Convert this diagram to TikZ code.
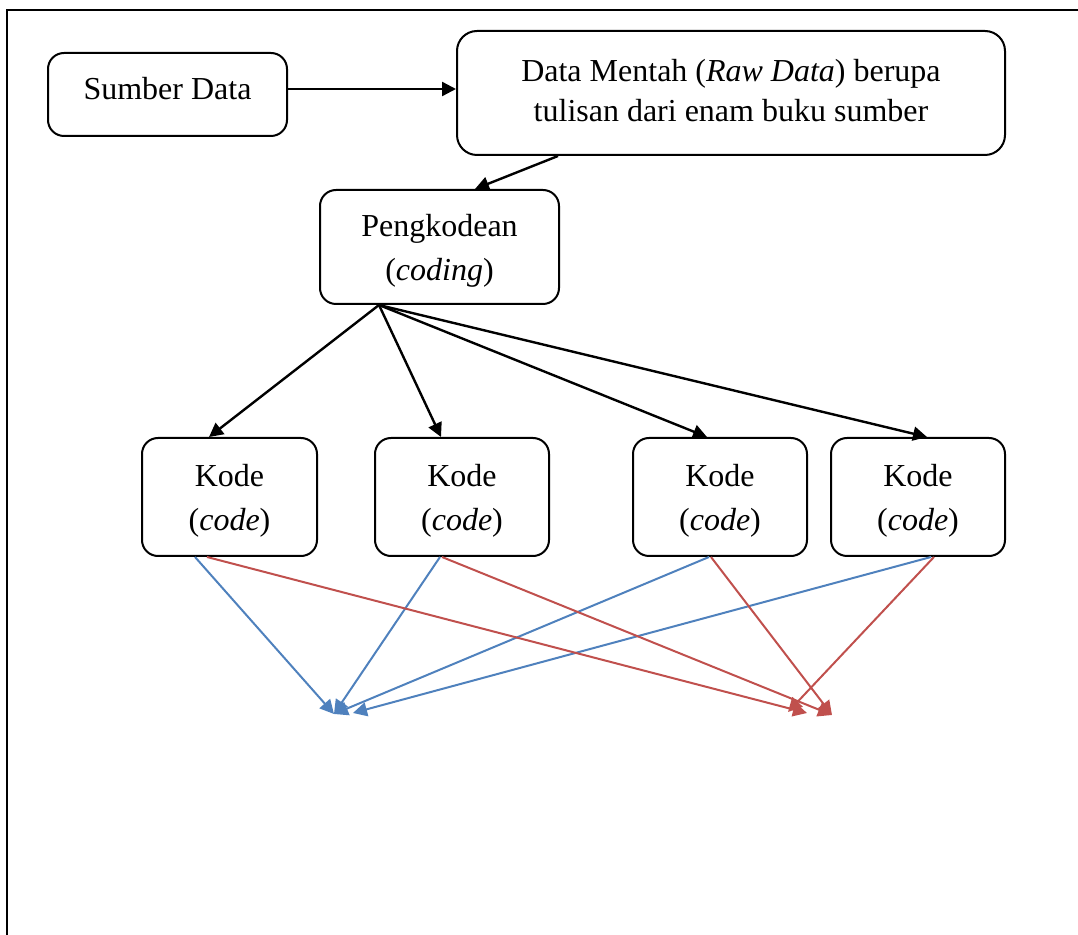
\documentclass[tikz,border=0pt]{standalone}
\usepackage{fontspec}
\setmainfont{Liberation Serif}
\usetikzlibrary{arrows.meta,calc}
\definecolor{obl}{HTML}{4F81BD}
\definecolor{ord}{HTML}{C0504D}
\begin{document}
\begin{tikzpicture}[x=0.5pt,y=-0.5pt,
  box/.style={draw,line width=1pt,rounded corners=8pt,inner sep=0pt,align=center,
    font=\fontsize{16}{22}\selectfont},
  two/.style={box,text depth=0pt},
  blk/.style={line width=1.2pt,-{Triangle[length=7pt,width=7pt]}},
  blu/.style={draw=obl,line width=1pt,-{Triangle[length=7pt,width=7pt]}},
  rdd/.style={draw=ord,line width=1pt,-{Triangle[length=7pt,width=7pt]}}]
\useasboundingbox (0,0) rectangle (1078,935);
\draw[line width=1.3pt] (1078,10) -- (7,10) -- (7,935);
\node[box,minimum width=119.5pt,minimum height=41.5pt,text depth=6pt] (src) at (167.5,94.5) {Sumber Data};
\node[box,minimum width=274pt,minimum height=62pt,rounded corners=10pt,text depth=3pt,
  font=\fontsize{16}{20}\selectfont] (raw) at (731,93) {Data Mentah (\textit{Raw Data}) berupa\\tulisan dari enam buku sumber};
\node[two,minimum width=119.5pt,minimum height=57pt] (cod) at (439.5,247) {Pengkodean\\(\textit{coding})};
\node[two,minimum width=87.5pt,minimum height=59pt] (k1) at (229.5,497) {Kode\\(\textit{code})};
\node[two,minimum width=87pt,minimum height=59pt] (k2) at (462,497) {Kode\\(\textit{code})};
\node[two,minimum width=87pt,minimum height=59pt] (k3) at (720,497) {Kode\\(\textit{code})};
\node[two,minimum width=87pt,minimum height=59pt] (k4) at (918,497) {Kode\\(\textit{code})};
\coordinate (b1) at (334,714);
\coordinate (b2) at (353,713);
\coordinate (r1) at (807,713);
\coordinate (r2) at (832,715);
\coordinate (r4) at (788,712);
\draw[blk] ([yshift=2.75pt]src.east) -- ([yshift=2pt]raw.west);
\draw[blk] ([xshift=-86.5pt]raw.south) -- ([xshift=17.75pt]cod.north);
\coordinate (cs) at ([xshift=30pt]cod.south west);
\draw[blk] (cs) -- ([xshift=34pt]k1.north west);
\draw[blk] (cs) -- ([xshift=33.5pt]k2.north west);
\draw[blk] (cs) -- ([xshift=37.5pt]k3.north west);
\draw[blk] (cs) -- ([xshift=48.5pt]k4.north west);
\draw[blu] ([xshift=27pt]k1.south west) -- (b1);
\draw[blu] ([xshift=33pt]k2.south west) -- (b1);
\draw[blu] ([xshift=38.5pt]k3.south west) -- (b1);
\draw[blu] ([xshift=50.5pt]k4.south west) -- (b2);
\draw[rdd] ([xshift=33pt]k1.south west) -- (r1);
\draw[rdd] ([xshift=34pt]k2.south west) -- (r2);
\draw[rdd] ([xshift=39.5pt]k3.south west) -- (r2);
\draw[rdd] ([xshift=52pt]k4.south west) -- (r4);
\end{tikzpicture}
\end{document}
